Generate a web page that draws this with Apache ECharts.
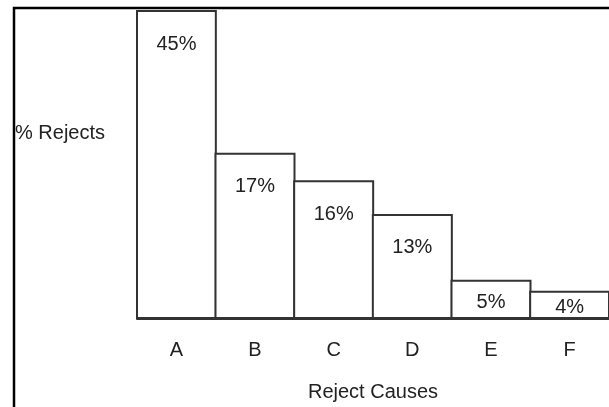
<!DOCTYPE html>
<html>
<head>
<meta charset="utf-8">
<script src="https://cdn.jsdelivr.net/npm/echarts@6/dist/echarts.min.js"></script>
<style>
html, body { margin: 0; padding: 0; background: #fff; }
#chart { width: 609px; height: 407px; }
</style>
</head>
<body>
<div id="chart"></div>
<script>
// Reject causes (categories)
const categories = ['A', 'B', 'C', 'D', 'E', 'F'];
// Bar heights as drawn in the picture (in units where A = 45)
const barHeights = [45, 24.2, 20.2, 15.3, 5.7, 4.1];
// Percentage labels printed on the bars
const barLabels = ['45%', '17%', '16%', '13%', '5%', '4%'];
const xAxisTitle = 'Reject Causes';
const yAxisTitle = '% Rejects';

const FONT = '"Liberation Sans", Arial, sans-serif';
const chart = echarts.init(document.getElementById('chart'), null, { renderer: 'canvas' });

const seriesData = barHeights.map((v, i) => {
  const small = v < 8;
  return {
    value: v,
    label: small
      ? { position: 'inside', offset: [0, 3] }
      : { position: 'insideTop', distance: 24 }
  };
});

chart.setOption({
  animation: false,
  backgroundColor: '#fff',
  grid: { left: 137, top: 10, width: 474, height: 310, containLabel: false },
  graphic: [{
    type: 'rect',
    z: 100,
    silent: true,
    shape: { x: 14, y: 8, width: 700, height: 500 },
    style: { fill: 'none', stroke: '#000', lineWidth: 2.5 }
  }, {
    type: 'text',
    left: 15,
    top: 123,
    silent: true,
    style: { text: yAxisTitle, font: '20px ' + FONT, fill: '#222' }
  }],
  xAxis: {
    type: 'category',
    data: categories,
    name: xAxisTitle,
    nameLocation: 'middle',
    nameGap: 63,
    nameTextStyle: { fontFamily: FONT, fontSize: 20, color: '#222' },
    axisLine: { show: true, lineStyle: { color: '#333', width: 2 } },
    axisTick: { show: false },
    axisLabel: { fontFamily: FONT, fontSize: 20, color: '#222', margin: 21 },
    splitLine: { show: false }
  },
  yAxis: {
    type: 'value',
    min: 0,
    max: 45,
    axisLine: { show: false },
    axisTick: { show: false },
    axisLabel: { show: false },
    splitLine: { show: false }
  },
  series: [{
    type: 'bar',
    data: seriesData,
    barWidth: 81,
    itemStyle: { color: '#fff', borderColor: '#333', borderWidth: 2 },
    label: {
      show: true,
      fontFamily: FONT,
      fontSize: 20,
      color: '#222',
      formatter: p => barLabels[p.dataIndex]
    }
  }]
});
</script>
</body>
</html>
